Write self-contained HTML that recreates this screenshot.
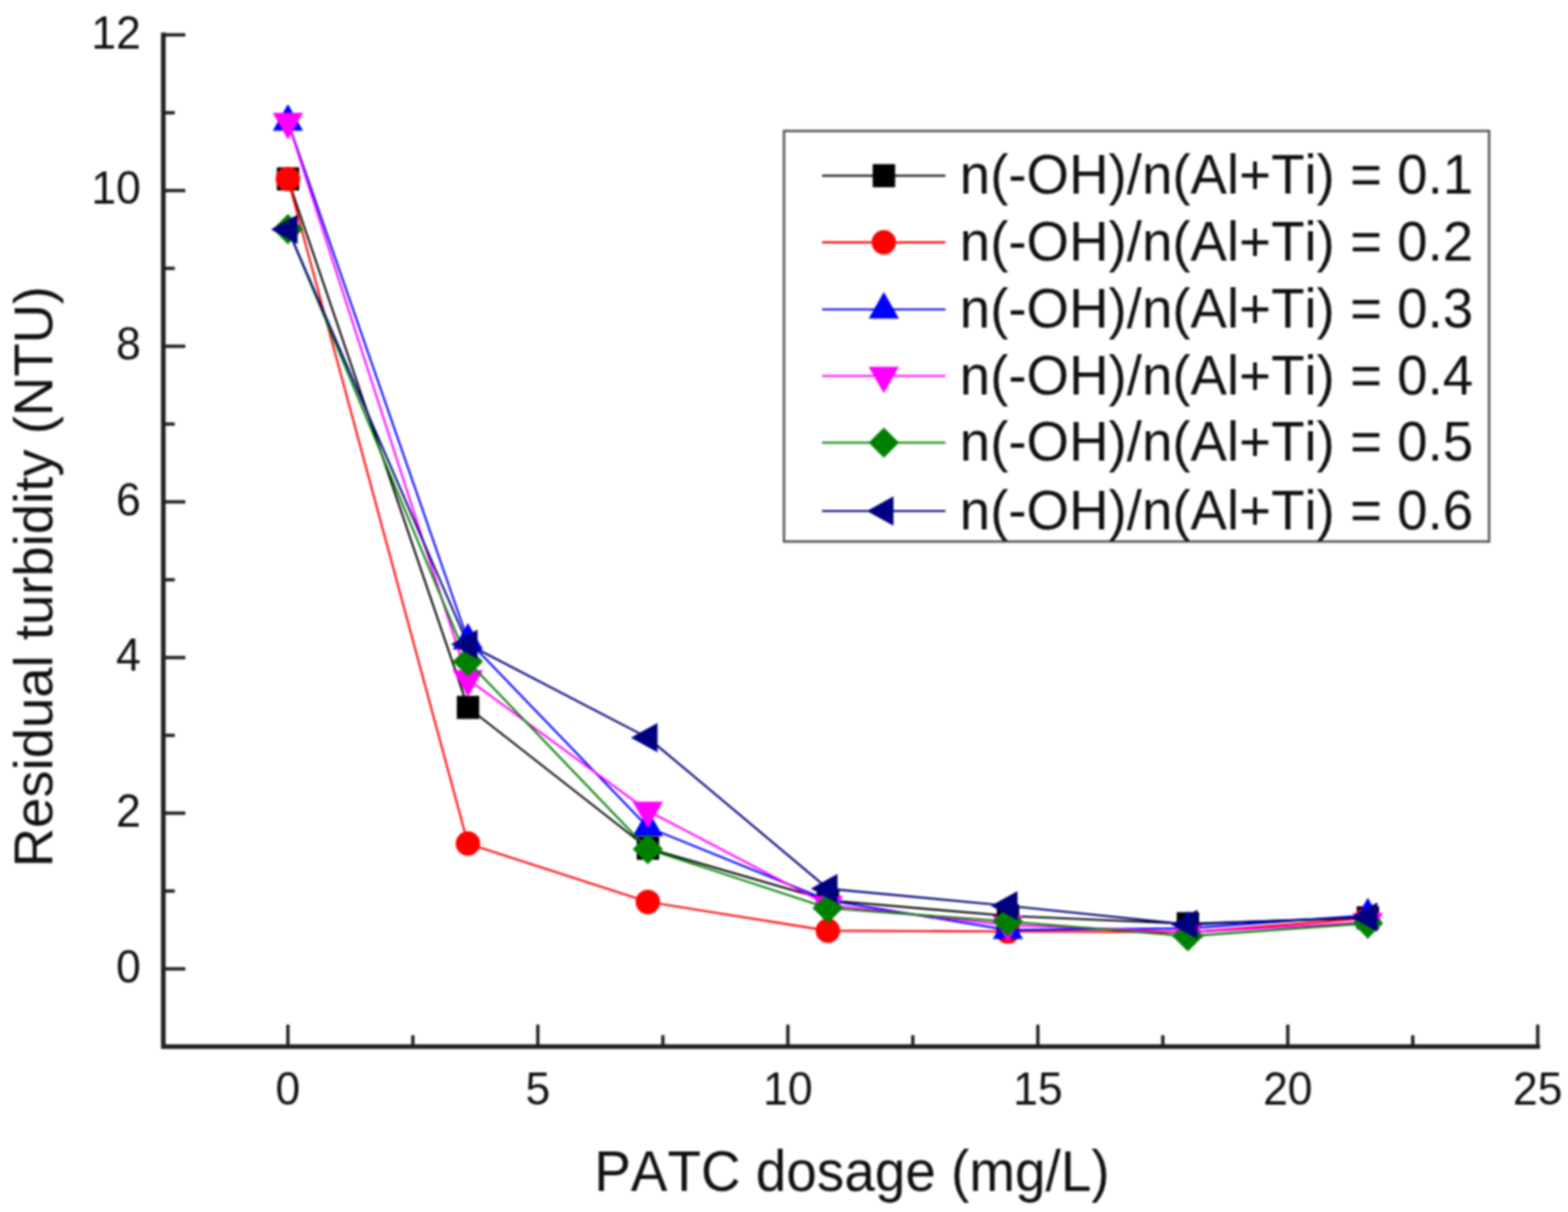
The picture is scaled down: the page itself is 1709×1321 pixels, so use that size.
<!DOCTYPE html>
<html lang="en"><head><meta charset="utf-8"><title>Residual turbidity vs PATC dosage</title>
<style>
html,body{margin:0;padding:0;background:#fff;}
body{width:1709px;height:1321px;overflow:hidden;}
svg{display:block;filter:blur(0.8px);}
text{font-family:"Liberation Sans",sans-serif;fill:#111111;font-kerning:none;}
.tick{font-size:48.5px;}
.leg{font-size:59.6px;}
.ttl{font-size:59.8px;}
.ytl{font-size:59.4px;}
</style></head><body>
<svg width="1709" height="1321" viewBox="0 0 1709 1321">
<rect x="0" y="0" width="1709" height="1321" fill="#ffffff"/>
<g id="series">
<polyline points="313.8,195.0 510.0,771.0 706.1,924.5 902.3,981.3 1098.5,998.3 1294.6,1006.8 1490.8,1000.4" fill="none" stroke="#000000" stroke-width="2.1" stroke-linejoin="round"/>
<rect x="301.7" y="182.4" width="24.4" height="25.2" fill="#000000"/>
<rect x="497.9" y="758.4" width="24.4" height="25.2" fill="#000000"/>
<rect x="694.0" y="911.9" width="24.4" height="25.2" fill="#000000"/>
<rect x="890.2" y="968.7" width="24.4" height="25.2" fill="#000000"/>
<rect x="1086.4" y="985.7" width="24.4" height="25.2" fill="#000000"/>
<rect x="1282.5" y="994.2" width="24.4" height="25.2" fill="#000000"/>
<rect x="1478.7" y="987.8" width="24.4" height="25.2" fill="#000000"/>
<polyline points="313.8,195.0 510.0,919.4 706.1,983.0 902.3,1014.4 1098.5,1015.3 1294.6,1016.1 1490.8,1000.9" fill="none" stroke="#ff0000" stroke-width="2.1" stroke-linejoin="round"/>
<circle cx="313.8" cy="195.0" r="13.3" fill="#ff0000"/>
<circle cx="510.0" cy="919.4" r="13.3" fill="#ff0000"/>
<circle cx="706.1" cy="983.0" r="13.3" fill="#ff0000"/>
<circle cx="902.3" cy="1014.4" r="13.3" fill="#ff0000"/>
<circle cx="1098.5" cy="1015.3" r="13.3" fill="#ff0000"/>
<circle cx="1294.6" cy="1016.1" r="13.3" fill="#ff0000"/>
<circle cx="1490.8" cy="1000.9" r="13.3" fill="#ff0000"/>
<polyline points="313.8,132.6 510.0,698.0 706.1,901.6 902.3,981.3 1098.5,1013.6 1294.6,1011.9 1490.8,997.5" fill="none" stroke="#0000ff" stroke-width="2.1" stroke-linejoin="round"/>
<polygon points="313.8,113.6 330.3,142.6 297.3,142.6" fill="#0000ff"/>
<polygon points="510.0,679.0 526.5,708.0 493.5,708.0" fill="#0000ff"/>
<polygon points="706.1,882.6 722.6,911.6 689.6,911.6" fill="#0000ff"/>
<polygon points="902.3,962.3 918.8,991.3 885.8,991.3" fill="#0000ff"/>
<polygon points="1098.5,994.6 1115.0,1023.6 1082.0,1023.6" fill="#0000ff"/>
<polygon points="1294.6,992.9 1311.1,1021.9 1278.1,1021.9" fill="#0000ff"/>
<polygon points="1490.8,978.5 1507.3,1007.5 1474.3,1007.5" fill="#0000ff"/>
<polyline points="313.8,133.0 510.0,740.4 706.1,883.8 902.3,986.4 1098.5,1008.1 1294.6,1016.1 1490.8,1005.1" fill="none" stroke="#ff00ff" stroke-width="2.1" stroke-linejoin="round"/>
<polygon points="313.8,152.0 330.3,123.0 297.3,123.0" fill="#ff00ff"/>
<polygon points="510.0,759.4 526.5,730.4 493.5,730.4" fill="#ff00ff"/>
<polygon points="706.1,902.8 722.6,873.8 689.6,873.8" fill="#ff00ff"/>
<polygon points="902.3,1005.4 918.8,976.4 885.8,976.4" fill="#ff00ff"/>
<polygon points="1098.5,1027.1 1115.0,998.1 1082.0,998.1" fill="#ff00ff"/>
<polygon points="1294.6,1035.1 1311.1,1006.1 1278.1,1006.1" fill="#ff00ff"/>
<polygon points="1490.8,1024.1 1507.3,995.1 1474.3,995.1" fill="#ff00ff"/>
<polyline points="313.8,249.7 510.0,720.9 706.1,925.4 902.3,989.8 1098.5,1004.3 1294.6,1020.4 1490.8,1006.4" fill="none" stroke="#008000" stroke-width="2.1" stroke-linejoin="round"/>
<polygon points="313.8,233.2 330.3,249.7 313.8,266.2 297.3,249.7" fill="#008000"/>
<polygon points="510.0,704.4 526.5,720.9 510.0,737.4 493.5,720.9" fill="#008000"/>
<polygon points="706.1,908.9 722.6,925.4 706.1,941.9 689.6,925.4" fill="#008000"/>
<polygon points="902.3,973.3 918.8,989.8 902.3,1006.3 885.8,989.8" fill="#008000"/>
<polygon points="1098.5,987.8 1115.0,1004.3 1098.5,1020.8 1082.0,1004.3" fill="#008000"/>
<polygon points="1294.6,1003.9 1311.1,1020.4 1294.6,1036.9 1278.1,1020.4" fill="#008000"/>
<polygon points="1490.8,989.9 1507.3,1006.4 1490.8,1022.9 1474.3,1006.4" fill="#008000"/>
<polyline points="313.8,250.1 510.0,702.3 706.1,804.1 902.3,968.6 1098.5,987.3 1294.6,1007.6 1490.8,999.6" fill="none" stroke="#000080" stroke-width="2.1" stroke-linejoin="round"/>
<polygon points="295.3,250.1 324.3,234.1 324.3,266.1" fill="#000080"/>
<polygon points="491.5,702.3 520.5,686.3 520.5,718.3" fill="#000080"/>
<polygon points="687.6,804.1 716.6,788.1 716.6,820.1" fill="#000080"/>
<polygon points="883.8,968.6 912.8,952.6 912.8,984.6" fill="#000080"/>
<polygon points="1080.0,987.3 1109.0,971.3 1109.0,1003.3" fill="#000080"/>
<polygon points="1276.1,1007.6 1305.1,991.6 1305.1,1023.6" fill="#000080"/>
<polygon points="1472.3,999.6 1501.3,983.6 1501.3,1015.6" fill="#000080"/>
</g>
<g id="axes" stroke="#1f1f1f" stroke-width="5" fill="none" stroke-linecap="butt">
<polyline points="178.0,35.5 178.0,1140.8 1678.5,1140.8" stroke-linejoin="miter"/>
<line x1="178.0" y1="1056.0" x2="202.0" y2="1056.0" stroke-width="3.6"/>
<line x1="178.0" y1="971.2" x2="190.5" y2="971.2" stroke-width="3.6"/>
<line x1="178.0" y1="886.3" x2="202.0" y2="886.3" stroke-width="3.6"/>
<line x1="178.0" y1="801.5" x2="190.5" y2="801.5" stroke-width="3.6"/>
<line x1="178.0" y1="716.7" x2="202.0" y2="716.7" stroke-width="3.6"/>
<line x1="178.0" y1="631.9" x2="190.5" y2="631.9" stroke-width="3.6"/>
<line x1="178.0" y1="547.0" x2="202.0" y2="547.0" stroke-width="3.6"/>
<line x1="178.0" y1="462.2" x2="190.5" y2="462.2" stroke-width="3.6"/>
<line x1="178.0" y1="377.4" x2="202.0" y2="377.4" stroke-width="3.6"/>
<line x1="178.0" y1="292.5" x2="190.5" y2="292.5" stroke-width="3.6"/>
<line x1="178.0" y1="207.7" x2="202.0" y2="207.7" stroke-width="3.6"/>
<line x1="178.0" y1="122.9" x2="190.5" y2="122.9" stroke-width="3.6"/>
<line x1="178.0" y1="38.0" x2="202.0" y2="38.0" stroke-width="3.6"/>
<line x1="313.8" y1="1140.8" x2="313.8" y2="1116.8" stroke-width="3.6"/>
<line x1="450.0" y1="1140.8" x2="450.0" y2="1128.3" stroke-width="3.6"/>
<line x1="586.2" y1="1140.8" x2="586.2" y2="1116.8" stroke-width="3.6"/>
<line x1="722.5" y1="1140.8" x2="722.5" y2="1128.3" stroke-width="3.6"/>
<line x1="858.7" y1="1140.8" x2="858.7" y2="1116.8" stroke-width="3.6"/>
<line x1="994.9" y1="1140.8" x2="994.9" y2="1128.3" stroke-width="3.6"/>
<line x1="1131.2" y1="1140.8" x2="1131.2" y2="1116.8" stroke-width="3.6"/>
<line x1="1267.4" y1="1140.8" x2="1267.4" y2="1128.3" stroke-width="3.6"/>
<line x1="1403.6" y1="1140.8" x2="1403.6" y2="1116.8" stroke-width="3.6"/>
<line x1="1539.8" y1="1140.8" x2="1539.8" y2="1128.3" stroke-width="3.6"/>
<line x1="1676.0" y1="1140.8" x2="1676.0" y2="1116.8" stroke-width="3.6"/>
</g>
<g id="ticklabels">
<text class="tick" transform="translate(153.5,1070.6) scale(1,1.02)" text-anchor="end">0</text>
<text class="tick" transform="translate(153.5,900.9) scale(1,1.02)" text-anchor="end">2</text>
<text class="tick" transform="translate(153.5,731.3) scale(1,1.02)" text-anchor="end">4</text>
<text class="tick" transform="translate(153.5,561.6) scale(1,1.02)" text-anchor="end">6</text>
<text class="tick" transform="translate(153.5,392.0) scale(1,1.02)" text-anchor="end">8</text>
<text class="tick" transform="translate(153.5,222.3) scale(1,1.02)" text-anchor="end">10</text>
<text class="tick" transform="translate(153.5,52.6) scale(1,1.02)" text-anchor="end">12</text>
<text class="tick" transform="translate(313.8,1204.2) scale(1,1.03)" text-anchor="middle">0</text>
<text class="tick" transform="translate(586.2,1204.2) scale(1,1.03)" text-anchor="middle">5</text>
<text class="tick" transform="translate(858.7,1204.2) scale(1,1.03)" text-anchor="middle">10</text>
<text class="tick" transform="translate(1131.2,1204.2) scale(1,1.03)" text-anchor="middle">15</text>
<text class="tick" transform="translate(1403.6,1204.2) scale(1,1.03)" text-anchor="middle">20</text>
<text class="tick" transform="translate(1676.0,1204.2) scale(1,1.03)" text-anchor="middle">25</text>
</g>
<text class="ttl" transform="translate(928.5,1297.5) scale(1,1.04)" text-anchor="middle">PATC dosage (mg/L)</text>
<text class="ttl ytl" transform="translate(57.2,628.5) rotate(-90) scale(1,1.0)" text-anchor="middle">Residual turbidity (NTU)</text>
<g id="legend">
<rect x="854.5" y="142.8" width="768.5" height="447.4" fill="#ffffff" stroke="#555555" stroke-width="2.6"/>
<line x1="896" y1="191.5" x2="1030.5" y2="191.5" stroke="#000000" stroke-width="2.1"/>
<rect x="951.2" y="178.9" width="24.4" height="25.2" fill="#000000"/>
<text class="leg" transform="translate(1046.0,211.2) scale(1,1.04)" text-anchor="start">n(-OH)/n(Al+Ti) = 0.1</text>
<line x1="896" y1="264.1" x2="1030.5" y2="264.1" stroke="#ff0000" stroke-width="2.1"/>
<circle cx="963.3" cy="264.1" r="13.3" fill="#ff0000"/>
<text class="leg" transform="translate(1046.0,283.8) scale(1,1.04)" text-anchor="start">n(-OH)/n(Al+Ti) = 0.2</text>
<line x1="896" y1="337.3" x2="1030.5" y2="337.3" stroke="#0000ff" stroke-width="2.1"/>
<polygon points="963.3,318.3 979.8,347.3 946.8,347.3" fill="#0000ff"/>
<text class="leg" transform="translate(1046.0,357.0) scale(1,1.04)" text-anchor="start">n(-OH)/n(Al+Ti) = 0.3</text>
<line x1="896" y1="409.8" x2="1030.5" y2="409.8" stroke="#ff00ff" stroke-width="2.1"/>
<polygon points="963.3,428.8 979.8,399.8 946.8,399.8" fill="#ff00ff"/>
<text class="leg" transform="translate(1046.0,429.5) scale(1,1.04)" text-anchor="start">n(-OH)/n(Al+Ti) = 0.4</text>
<line x1="896" y1="482.5" x2="1030.5" y2="482.5" stroke="#008000" stroke-width="2.1"/>
<polygon points="963.3,466.0 979.8,482.5 963.3,499.0 946.8,482.5" fill="#008000"/>
<text class="leg" transform="translate(1046.0,502.2) scale(1,1.04)" text-anchor="start">n(-OH)/n(Al+Ti) = 0.5</text>
<line x1="896" y1="557.0" x2="1030.5" y2="557.0" stroke="#000080" stroke-width="2.1"/>
<polygon points="944.8,557.0 973.8,541.0 973.8,573.0" fill="#000080"/>
<text class="leg" transform="translate(1046.0,576.7) scale(1,1.04)" text-anchor="start">n(-OH)/n(Al+Ti) = 0.6</text>
</g>
</svg>
</body></html>
